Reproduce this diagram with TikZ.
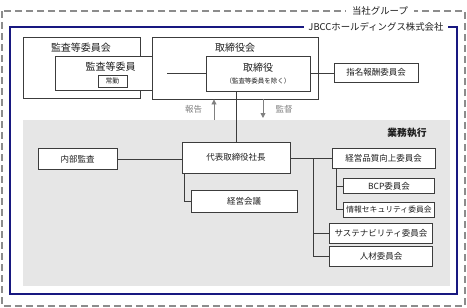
\documentclass[tikz,border=0pt]{standalone}
\usepackage{fontspec}
\setmainfont{Noto Sans CJK JP}
\usetikzlibrary{arrows.meta}
\definecolor{navyc}{RGB}{24,24,128}
\definecolor{dashc}{RGB}{140,140,140}
\definecolor{areac}{RGB}{230,230,230}
\definecolor{linec}{RGB}{60,60,60}
\definecolor{arrc}{RGB}{128,128,128}
\definecolor{txtc}{RGB}{30,30,30}
\tikzset{
 box/.style={draw=linec, line width=0.9pt, fill=white, inner sep=0pt},
 conn/.style={draw=linec, line width=0.9pt},
 bigtxt/.style={font=\fontsize{10}{12}\selectfont, text=txtc, inner sep=0pt},
 smalltxt/.style={font=\fontsize{8.5}{10}\selectfont, text=txtc},
 tinytxt/.style={font=\fontsize{6.5}{8}\selectfont, text=txtc, inner sep=0pt},
 grtxt/.style={font=\fontsize{8.5}{10}\selectfont, text=arrc, inner sep=0pt},
 garrow/.style={draw=arrc, line width=0.9pt, -{Triangle[length=5pt,width=5pt,fill=arrc]}},
 ttl/.style={fill=white, inner ysep=1pt, font=\fontsize{9.4}{11}\selectfont, text=txtc},
}
\begin{document}
\begin{tikzpicture}[x=1pt,y=-1pt]
\useasboundingbox (0,0) rectangle (467,308);
% group frame
\draw[dashc, line width=1.5pt, dash pattern=on 7pt off 4pt] (2,11) rectangle (465,306);
\node[ttl, inner xsep=6pt] (grp) at (380,11) {当社グループ};
% company frame
\draw[navyc, line width=1.4pt] (10,27) rectangle (457,294);
\node[ttl, inner xsep=4pt] (jbcc) at (376,27) {JBCCホールディングス株式会社};
% execution area
\fill[areac] (23,120) rectangle (450,286);
\node[font=\fontsize{9.8}{11}\selectfont\bfseries, text=txtc, inner sep=0pt] (gyomu) at (407,133) {業務執行};

% audit committee
\node[box, minimum width=117pt, minimum height=61pt] (kac) at (81.5,67.5) {};
\node[bigtxt] (kact) at (81,47.5) {監査等委員会};
\node[box, minimum width=112pt, minimum height=34pt] (kan) at (111,73) {};
\node[bigtxt] (kant) at (110.5,66.5) {監査等委員};
\node[box, minimum width=29pt, minimum height=12pt, font=\fontsize{6.8}{8}\selectfont, text=txtc] (jokin) at (112.5,81) {常勤};

% board
\node[box, minimum width=166pt, minimum height=62pt] (torkai) at (235,68) {};
\node[bigtxt] (torkait) at (235,48) {取締役会};
\node[box, minimum width=104pt, minimum height=35pt] (tor) at (258,73.5) {};
\node[bigtxt] (tort) at (258,68) {取締役};
\node[tinytxt] (tort2) at (258,81) {（監査等委員を除く）};

\node[box, smalltxt, minimum width=84pt, minimum height=19pt] (shimei) at (376,72.5) {指名報酬委員会};

\draw[conn] (kan.east |- tor.west) -- (tor.west);
\draw[conn] (tor.east) -- (tor.east -| shimei.west);

% president
\node[box, smalltxt, minimum width=108pt, minimum height=31pt] (daihyo) at (236,157.5) {代表取締役社長};
\node[box, smalltxt, minimum width=79pt, minimum height=21.5pt] (naibu) at (77.5,159) {内部監査};
\node[box, smalltxt, minimum width=106pt, minimum height=21.5pt] (keieikaigi) at (244,201.5) {経営会議};

\draw[conn] (daihyo.north) -- (daihyo.north |- tor.south);
\draw[conn] (naibu.east) -- (naibu.east -| daihyo.west);

\coordinate (rptlow) at (214,120);
\coordinate (suplow) at (263,118);
\draw[garrow] (rptlow) -- (rptlow |- torkai.south);
\draw[garrow] (torkai.south -| suplow) -- (suplow);
\node[grtxt] (hokoku) at (193.5,109) {報告};
\node[grtxt] (kantoku) at (284,109) {監督};

% committees
\node[box, smalltxt, minimum width=103pt, minimum height=20pt] (hinshitsu) at (383.5,158) {経営品質向上委員会};
\node[box, smalltxt, minimum width=91pt, minimum height=15pt] (bcp) at (389,186) {BCP委員会};
\node[box, font=\fontsize{7.8}{9}\selectfont, text=txtc, minimum width=91pt, minimum height=15pt] (joho) at (389,209.5) {情報セキュリティ委員会};
\node[box, smalltxt, minimum width=103pt, minimum height=20pt] (sustain) at (381,233.5) {サステナビリティ委員会};
\node[box, smalltxt, minimum width=103pt, minimum height=20pt] (jinzai) at (381,256.5) {人材委員会};

\draw[conn] (daihyo.east |- hinshitsu.west) -- (hinshitsu.west);
\coordinate (trunk) at (313.5,158);
\draw[conn] (trunk) |- (jinzai.west);
\draw[conn] (trunk |- sustain.west) -- (sustain.west);
\coordinate (subx) at (336,0);
\coordinate (subtrunk) at (hinshitsu.south -| subx);
\draw[conn] (subtrunk) |- (joho.west);
\draw[conn] (subtrunk |- bcp.west) -- (bcp.west);

\coordinate (kkx) at (184,0);
\coordinate (kkbranch) at (daihyo.south -| kkx);
\draw[conn] (kkbranch) |- (keieikaigi.west);
\end{tikzpicture}
\end{document}
